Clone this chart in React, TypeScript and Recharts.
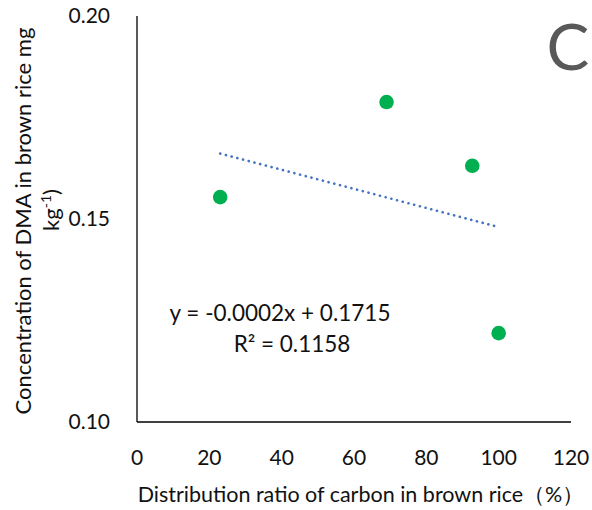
import React from 'react';
import { ScatterChart, Scatter, XAxis, YAxis } from 'recharts';

// Distribution ratio of carbon in brown rice (%)
const carbonRatio = [23, 69, 92.7, 100];
// DMA concentration in brown rice (mg kg-1)
const dmaConc = [0.1554, 0.1788, 0.1631, 0.12188];

const xTicks = [0, 20, 40, 60, 80, 100, 120];
const yTicks = [0.1, 0.15, 0.2];

const points = carbonRatio.map((x, i) => ({ x, y: dmaConc[i] }));

// Ordinary least-squares fit of the samples
function linearFit(xs: number[], ys: number[]) {
  const n = xs.length;
  const mx = xs.reduce((a, b) => a + b, 0) / n;
  const my = ys.reduce((a, b) => a + b, 0) / n;
  let sxy = 0;
  let sxx = 0;
  let syy = 0;
  for (let i = 0; i < n; i++) {
    sxy += (xs[i] - mx) * (ys[i] - my);
    sxx += (xs[i] - mx) ** 2;
    syy += (ys[i] - my) ** 2;
  }
  const slope = sxy / sxx;
  const intercept = my - slope * mx;
  const r2 = (sxy * sxy) / (sxx * syy);
  return { slope, intercept, r2 };
}

const fit = linearFit(carbonRatio, dmaConc);
const xMin = Math.min(...carbonRatio);
const xMax = Math.max(...carbonRatio);
const trendData = [
  { x: xMin, y: fit.intercept + fit.slope * xMin },
  { x: xMax, y: fit.intercept + fit.slope * xMax },
];

const equationText = `y = ${fit.slope.toFixed(4)}x + ${fit.intercept.toFixed(4)}`;
const r2Text = `R² = ${fit.r2.toFixed(4)}`;

const FONT = 'Lato, "Noto Sans", sans-serif';
const TEXT = '#111';

const NoMarker = () => <g />;

export default function App() {
  return (
    <div style={{ position: 'absolute', left: 0, top: 0, width: 592, height: 510, background: '#fff' }}>
      <ScatterChart
        width={592}
        height={510}
        margin={{ top: 16, right: 21, bottom: 58, left: 77 }}
        style={{ fontFamily: FONT }}
      >
        <XAxis
          type="number"
          dataKey="x"
          domain={[0, 120]}
          ticks={xTicks}
          interval={0}
          height={30}
          tickLine={false}
          tickSize={0}
          tickMargin={28}
          axisLine={{ stroke: '#000', strokeWidth: 1.3 }}
          tick={{ fill: TEXT, fontSize: 21, fontFamily: FONT }}
        />
        <YAxis
          type="number"
          dataKey="y"
          domain={[0.1, 0.2]}
          ticks={yTicks}
          interval={0}
          width={60}
          tickLine={false}
          tickSize={0}
          tickMargin={27}
          tickFormatter={(v: number) => v.toFixed(2)}
          axisLine={{ stroke: '#000', strokeWidth: 1.3 }}
          tick={{ fill: TEXT, fontSize: 21, fontFamily: FONT }}
        />
        <Scatter
          data={trendData}
          line={{ stroke: '#4472C4', strokeWidth: 2.6, strokeDasharray: '0.1 5.8', strokeLinecap: 'round' }}
          shape={NoMarker}
          legendType="none"
          isAnimationActive={false}
        />
        <Scatter data={points} fill="#00B050" isAnimationActive={false}
          shape={(p: any) => <circle cx={p.cx} cy={p.cy} r={7.3} fill="#00B050" />} />

        <text x={280} y={321} textAnchor="middle" fontSize={22.5} fill={TEXT} fontFamily={FONT}>
          {equationText}
        </text>
        <text x={292} y={352} textAnchor="middle" fontSize={22.5} fill={TEXT} fontFamily={FONT}>
          {r2Text}
        </text>

        <text x={568} y={70} textAnchor="middle" fontSize={64} fill="#595959" fontFamily={FONT}>
          C
        </text>

        <text x={31} y={221} transform="rotate(-90 31 221)" textAnchor="middle" fontSize={22} fill={TEXT} fontFamily={FONT}>
          Concentration of DMA in brown rice mg
        </text>
        <text x={59} y={210} transform="rotate(-90 59 210)" textAnchor="middle" fontSize={22} fill={TEXT} fontFamily={FONT}>
          kg
          <tspan fontSize={14} dy={-8}>-1</tspan>
          <tspan dy={8}>)</tspan>
        </text>

        <text x={361} y={502} textAnchor="middle" fontSize={21.5} fill={TEXT} fontFamily={FONT}>
          Distribution ratio of carbon in brown rice（%）
        </text>
      </ScatterChart>
    </div>
  );
}
